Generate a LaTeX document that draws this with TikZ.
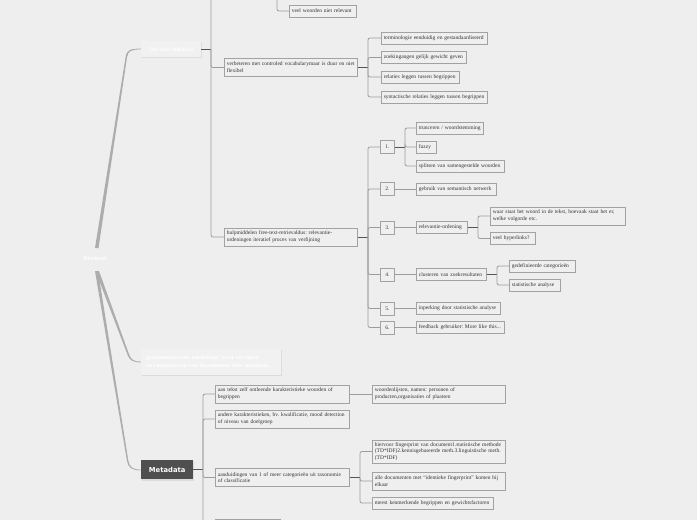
\documentclass[tikz,border=0pt]{standalone}
\usepackage{fontspec}
\setmainfont{Liberation Serif}
\newfontfamily\mdfont{DejaVu Sans}
\frenchspacing
\definecolor{bg}{HTML}{EEEEEE}
\definecolor{boxfill}{HTML}{EFEFEF}
\definecolor{boxline}{HTML}{A2A2A2}
\definecolor{txt}{HTML}{333333}
\definecolor{stubc}{HTML}{555555}
\definecolor{busc}{HTML}{9C9C9C}
\definecolor{brc}{HTML}{ADADAD}
\definecolor{lightbox}{HTML}{F1F1F1}
\definecolor{shadowc}{HTML}{DCDCDC}
\definecolor{darkbox}{HTML}{4F4F4F}
\newcommand\leaffont{\fontsize{5.5}{6.8}\selectfont\frenchspacing}
\newcommand\whitefont{\fontsize{5.8}{7.4}\selectfont\bfseries\frenchspacing}
\tikzset{
  leaf/.style={draw=boxline, fill=boxfill, line width=0.7pt, font=\leaffont, text=txt,
    inner xsep=2.5pt, inner ysep=1pt, anchor=west, align=left, text width=#1, minimum height=12pt},
  numbox/.style={draw=boxline, fill=boxfill, line width=0.7pt, font=\leaffont, text=txt,
    inner sep=0pt, anchor=west, minimum width=14pt, minimum height=13pt},
  topbox/.style={fill=lightbox, text=white, font=\whitefont, inner sep=0pt, align=left},
  stub/.style={draw=stubc, line width=0.8pt},
  bus/.style={draw=busc, line width=0.8pt, rounded corners=2pt},
  br/.style={fill=brc},
}
\begin{document}
\begin{tikzpicture}[x=1pt,y=-1pt]
\useasboundingbox[fill=bg] (0,0) rectangle (697,520);

% ---- root branches (tapered) ----
\fill[br] (95,248) -- (125.6,57) .. controls (126.8,50) and (130,48.6) .. (141,48.6)
  -- (141,49.4) .. controls (131,49.4) and (128,51) .. (127,57.5) -- (98.5,248) -- cycle;
\fill[br] (95.5,271) -- (127.8,355.5) .. controls (130,360.5) and (133,362.4) .. (141,362.4)
  -- (141,361.6) .. controls (134,361.6) and (131.5,360) .. (129.3,355) -- (99,271) -- cycle;
\fill[br] (95,271) -- (127,461) .. controls (128,467.5) and (132,470.4) .. (141,470.4)
  -- (141,469.6) .. controls (133,469.6) and (129.5,467) .. (128.4,461) -- (98,271) -- cycle;

% ---- root ----
\node[text=white, font=\whitefont, inner sep=1pt] (root) at (95,259) {Retrieval};

% ---- first-level boxes ----
\fill[shadowc] (141.6,42) rectangle (201.8,58);
\node[topbox, minimum width=60pt, minimum height=16pt, anchor=west, align=center] (ft) at (141,49) {free-text retrieval};
\fill[shadowc] (141.6,350) rectangle (281.8,376);
\node[topbox, minimum width=140pt, minimum height=26pt, anchor=west, text width=130pt, inner xsep=5pt] (ga) at (141,362)
  {geautomatiseerde ontsluiting: eerst verrijken\\ en categoriseren van documenten mbv metadata.};
\fill[shadowc] (141.6,461) rectangle (193.8,480.5);
\node[fill=darkbox, text=white, font=\mdfont\fontsize{6.8}{8}\selectfont\bfseries, inner sep=0pt,
  minimum width=52pt, minimum height=19pt, anchor=west] (md) at (141,469.5) {Metadata};

% ---- free-text retrieval subtree ----
\node[leaf=62pt] (vw) at (289,11) {veel woorden niet relevant};
\node[leaf=128pt, minimum height=18pt] (vb) at (224,67.5) {verbeteren met controled vocabularymaar is duur en niet\\ flexibel};
\node[leaf=128pt, minimum height=18pt] (hm) at (224,237) {hulpmiddelen free-text-retrievaldus: relevantie-\\ ordeningen iteratief proces van verfijning};

\node[leaf=101pt] (t1) at (381,38) {terminologie eenduidig en gestandaardiseerd};
\node[leaf=80pt] (t2) at (381,57.5) {zoekingangen gelijk gewicht geven};
\node[leaf=73pt] (t3) at (381,77) {relaties leggen tussen begrippen};
\node[leaf=101pt] (t4) at (381,97) {syntactische relaties leggen tussen begrippen};

\node[numbox] (n1) at (380,147) {1.};
\node[numbox] (n2) at (380,189) {2.};
\node[numbox] (n3) at (380,227.5) {3.};
\node[numbox] (n4) at (380,274.5) {4.};
\node[numbox] (n5) at (380,308.5) {5.};
\node[numbox] (n6) at (380,327.5) {6.};

\node[leaf=62pt] (a1) at (416,128) {trunceren / woordstemming};
\node[leaf=15pt] (a2) at (416,147) {fuzzy};
\node[leaf=83pt] (a3) at (416,166) {splitsen van samengestelde woorden};
\node[leaf=75pt] (b1) at (416,189) {gebruik van semantisch netwerk};
\node[leaf=46pt] (c1) at (416,227.5) {relevantie-ordening};
\node[leaf=130pt, minimum height=18pt] (c2) at (490,216) {waar staat het woord in de tekst, hoevaak staat het er,\\ welke volgorde etc.};
\node[leaf=40pt] (c3) at (490,238.5) {veel hyperlinks?};
\node[leaf=65pt] (d1) at (416,274.5) {clusteren van zoekresultaten};
\node[leaf=61pt] (d2) at (509,266) {gedefinieerde categorieën};
\node[leaf=46pt] (d3) at (509,285) {statistische analyse};
\node[leaf=79pt] (e1) at (416,308.5) {inperking door statistische analyse};
\node[leaf=83pt] (f1) at (416,327.5) {feedback gebruiker: More like this...};

% ---- metadata subtree ----
\node[leaf=129pt, minimum height=18pt] (m1) at (215,394) {aan tekst zelf ontleende karakteristieke woorden of\\ begrippen};
\node[leaf=129pt, minimum height=18pt] (m2) at (215,419) {andere karakteristieken, bv. kwalificatie, mood detection\\ of niveau van doelgroep};
\node[leaf=129pt, minimum height=18pt] (m3) at (215,477.5) {aanduidingen van 1 of meer categorieën uit taxonomie\\ of classificatie};
\node[leaf=60pt, minimum height=14pt] (m4) at (215,526) {};
\node[leaf=128pt, minimum height=18pt] (w1) at (372,394) {woordenlijsten, namen: personen of\\ producten,organisaties of plaatsen};
\node[leaf=128pt, minimum height=23pt] (k1) at (372,451.5) {hiervoor fingerprint van document1.statistische methode\\ (TD*IDF)2.kennisgebaseerde meth.3.linguistische meth.\\ (TD*IDF)};
\node[leaf=128pt, minimum height=18pt] (k2) at (372,481) {alle documenten met ``identieke fingerprint'' komen bij\\ elkaar};
\node[leaf=116pt] (k3) at (372,503) {meest kenmerkende begrippen en gewichtsfactoren};

% ---- connectors ----
\coordinate (fb) at (211,49);
\coordinate (fbtop) at (211,-3);
\coordinate (vwtop) at (277,-3);
\draw[stub] (ft.east) -- (fb);
\draw[bus] (fbtop) |- (hm.west);
\draw[bus] (fb) |- (vb.west);
\draw[bus] (vwtop) |- (vw.west);

\coordinate (vbb) at (368,67.5);
\draw[stub] (vb.east) -- (vbb);
\foreach \c in {t1,t2,t3,t4} \draw[bus] (vbb) |- (\c.west);

\coordinate (hmb) at (368,237);
\draw[stub] (hm.east) -- (hmb);
\foreach \c in {n1,n2,n3,n4,n5,n6} \draw[bus] (hmb) |- (\c.west);

\coordinate (n1b) at (405,147);
\draw[stub] (n1.east) -- (n1b);
\foreach \c in {a1,a2,a3} \draw[bus] (n1b) |- (\c.west);
\draw[bus] (n2.east) -- (b1.west);
\draw[bus] (n3.east) -- (c1.west);
\coordinate (c1b) at (478,227.5);
\draw[stub] (c1.east) -- (c1b);
\foreach \c in {c2,c3} \draw[bus] (c1b) |- (\c.west);
\draw[bus] (n4.east) -- (d1.west);
\coordinate (d1b) at (497,274.5);
\draw[stub] (d1.east) -- (d1b);
\foreach \c in {d2,d3} \draw[bus] (d1b) |- (\c.west);
\draw[bus] (n5.east) -- (e1.west);
\draw[bus] (n6.east) -- (f1.west);

\coordinate (mdb) at (203,469.5);
\draw[stub] (md.east) -- (mdb);
\foreach \c in {m1,m2,m3,m4} \draw[bus] (mdb) |- (\c.west);
\draw[bus] (m1.east) -- (w1.west);
\coordinate (m3b) at (360,477.5);
\draw[stub] (m3.east) -- (m3b);
\foreach \c in {k1,k2,k3} \draw[bus] (m3b) |- (\c.west);
\end{tikzpicture}
\end{document}
